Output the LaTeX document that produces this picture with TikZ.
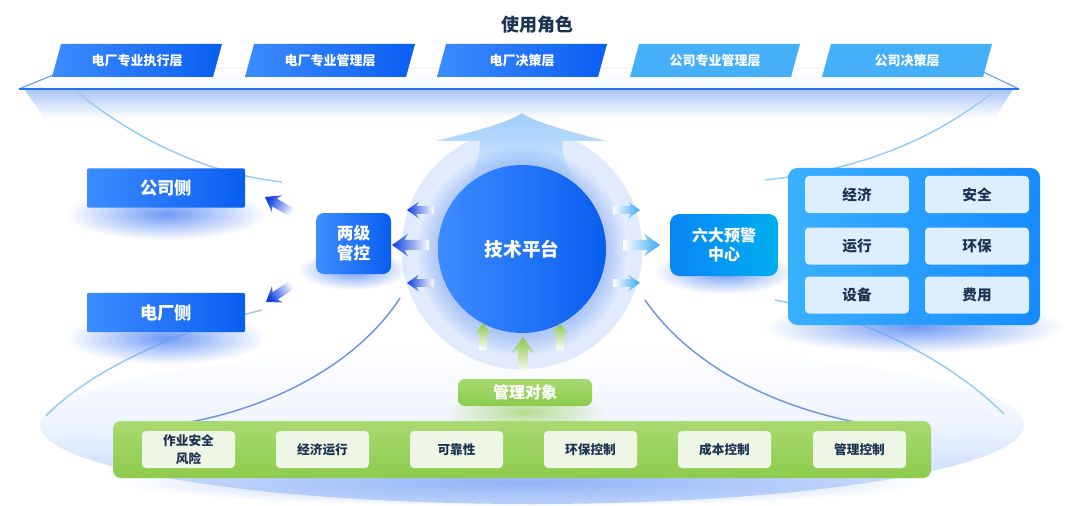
\documentclass[tikz,border=0pt]{standalone}
\usepackage{fontspec}
\setmainfont{Noto Sans CJK SC}
\usetikzlibrary{fadings}
\tikzfading[name=fade out, inner color=transparent!0, outer color=transparent!100]
\tikzfading[name=fade down, top color=transparent!0, bottom color=transparent!100]
\definecolor{navy}{HTML}{1E3352}
\definecolor{bL}{HTML}{3D8CFF}
\definecolor{bR}{HTML}{0A5EF0}
\definecolor{tabLight}{HTML}{45AFF8}
\definecolor{cyanR}{HTML}{00AEEF}
\definecolor{cyanL}{HTML}{0A86F7}
\definecolor{panL}{HTML}{3AB0FF}
\definecolor{panR}{HTML}{168BFF}
\definecolor{cellB}{HTML}{DDEFFF}
\definecolor{gT}{HTML}{A9DA72}
\definecolor{gB}{HTML}{8DCB4C}
\definecolor{gcell}{HTML}{EEF7E6}
\definecolor{curveD}{HTML}{7096DE}
\definecolor{curveL}{HTML}{93CDF6}
\definecolor{glowB}{HTML}{4A80F2}
\definecolor{glowG}{HTML}{B6DC8F}
\definecolor{darkArr}{HTML}{0E3FE0}
\definecolor{lightArr}{HTML}{3AA6F6}
\definecolor{greenArr}{HTML}{8CC84B}
\definecolor{bowlB}{HTML}{BCD3FB}
\definecolor{haloB}{HTML}{E0EAFD}
\definecolor{upTop}{HTML}{9FCDFC}
\definecolor{upBot}{HTML}{E4F0FF}
\definecolor{platLine}{HTML}{2A6FF0}
\definecolor{platDiag}{HTML}{6FA3F2}
\definecolor{platShadow}{HTML}{A9C6F7}
\newcommand\fatarrow[5]{%
  \path[shift={(#1)}, rotate=#2, scale=#5, top color=white, bottom color=#4, shading angle=#3]
    (0,0) -- (-14,-10) -- (-11,-4.5) -- (-32,-4.5) -- (-32,4.5) -- (-11,4.5) -- (-14,10) -- cycle;}
\newcommand\softglow[4]{\fill[#4, path fading=fade out] (#1) ellipse (#2 and #3);}
\begin{document}
\begin{tikzpicture}[x=0.75pt,y=-0.75pt,
  tabtxt/.style={text=white, font=\bfseries\fontsize{9.75}{11}\selectfont},
  sidebox/.style={rounded corners=1.5pt, left color=bL, right color=bR, text=white,
    font=\bfseries\fontsize{13}{15}\selectfont, minimum width=118.5pt, minimum height=29.5pt},
  cellbox/.style={rounded corners=3pt, fill=cellB, text=navy, font=\bfseries\fontsize{11}{13}\selectfont,
    minimum width=78pt, minimum height=27.75pt},
  gcellbox/.style={rounded corners=3pt, fill=gcell, text=navy, font=\bfseries\fontsize{9.5}{14}\selectfont,
    minimum width=69.75pt, minimum height=27.75pt, align=center, inner sep=0pt},
  lightcurve/.style={curveL, line width=1.1pt},
  darkcurve/.style={curveD, line width=1.1pt},
]
\useasboundingbox (0,0) rectangle (1070,506);
\fill[white] (0,0) rectangle (1070,506);

% bowl
\path[top color=white, bottom color=bowlB, middle color=white!75!bowlB] (532,425) ellipse (492 and 79);

% curves
\draw[lightcurve] (78,93) .. controls (150,150) and (220,175) .. (282,182);
\draw[lightcurve] (992,93) .. controls (920,150) and (840,172) .. (765,180);
\draw[lightcurve] (262,310) .. controls (180,330) and (90,370) .. (46,416);
\draw[lightcurve] (775,300) .. controls (880,320) and (960,370) .. (1004,414);
\draw[darkcurve] (400,298) .. controls (360,360) and (280,405) .. (190,422);
\draw[darkcurve] (645,300) .. controls (690,365) and (770,405) .. (855,422);

% platform
\fill[platShadow, path fading=fade down] (24,89) -- (1014,89) -- (995,118) -- (45,118) -- cycle;
\path[top color=white, bottom color=white!85!platShadow] (19,89) -- (70,68) -- (975,68) -- (1019,89) -- cycle;
\draw[white!80!platShadow, line width=0.5pt] (70,68) -- (975,68);
\draw[platDiag, line width=0.9pt] (19,89) -- (70,68);
\draw[platDiag, line width=0.9pt] (975,68) -- (1019,89);
\draw[platLine, line width=1.3pt] (19,89) -- (1019,89);

% tabs
\foreach \x/\c/\t/\n in {52/0/电厂专业执行层/t1, 245/0/电厂专业管理层/t2, 437/0/电厂决策层/t3, 630/1/公司专业管理层/t4, 822/1/公司决策层/t5}{
  \ifnum\c=0
    \path[left color=bL, right color=bR] (\x,77) -- (\x+9,44) -- (\x+170,44) -- (\x+161,77) -- cycle;
  \else
    \fill[tabLight] (\x,77) -- (\x+9,44) -- (\x+170,44) -- (\x+161,77) -- cycle;
  \fi
  \node[tabtxt] (\n) at (\x+85,60.5) {\t};
}
\node[text=navy, font=\bfseries\fontsize{13.5}{16}\selectfont] (title) at (537,25) {使用角色};

% halo
\path[inner color=white!70!haloB, outer color=haloB] (522,249) circle (120);
\draw[white!85!glowB, line width=0.6pt] (522,249) circle (120);
% big up arrow
\path[top color=upTop, bottom color=upBot]
  (436,141) .. controls (480,130) and (510,122) .. (522,113)
  .. controls (534,122) and (564,130) .. (606,141)
  -- (562,141) .. controls (562,165) and (575,182) .. (590,196)
  -- (454,196) .. controls (469,182) and (480,165) .. (480,141) -- cycle;
\foreach \r in {86,89,92,95,98,101,104}{
  \fill[glowB, opacity=0.055] (522,252) circle (\r);
}
\node[circle, minimum size=126pt, left color=bL, right color=bR, text=white,
  font=\bfseries\fontsize{14}{16}\selectfont] (core) at (522,249) {技术平台};

% arrow tips
\coordinate (aL1) at (407,210);
\coordinate (aL2) at (392,245);
\coordinate (aL3) at (407,283);
\coordinate (aR1) at (640,210);
\coordinate (aR2) at (660,245);
\coordinate (aR3) at (640,283);
\coordinate (aG1) at (483,323);
\coordinate (aG2) at (523,337);
\coordinate (aG3) at (560,323);
\coordinate (aU) at (265,197);
\coordinate (aD) at (266,302);
\fatarrow{aL1}{180}{270}{darkArr}{0.85}
\fatarrow{aL2}{180}{270}{darkArr}{1.15}
\fatarrow{aL3}{180}{270}{darkArr}{0.85}
\fatarrow{aR1}{0}{90}{lightArr}{0.85}
\fatarrow{aR2}{0}{90}{lightArr}{1.15}
\fatarrow{aR3}{0}{90}{lightArr}{0.85}
\fatarrow{aG1}{90}{180}{greenArr}{0.85}
\fatarrow{aG2}{90}{180}{greenArr}{1.15}
\fatarrow{aG3}{90}{180}{greenArr}{0.85}
\fatarrow{aU}{150}{240}{darkArr}{1.0}
\fatarrow{aD}{214}{304}{darkArr}{1.0}

% left boxes
\softglow{166,214}{100}{26}{glowB!80}
\softglow{166,338}{100}{26}{glowB!80}
\node[sidebox] (gs) at (166,188) {公司侧};
\node[sidebox] (dc) at (166,312.5) {电厂侧};
\softglow{353,270}{55}{20}{glowB!80}
\node[rounded corners=6pt, left color=bL, right color=bR, text=white, align=center,
  font=\bfseries\fontsize{12.5}{15}\selectfont, minimum width=56.25pt, minimum height=45.75pt,
  inner sep=0pt] (ljgk) at (353.5,243.5) {两级\\管控};

% right
\softglow{724,272}{70}{22}{glowB!80}
\node[rounded corners=7pt, left color=cyanL, right color=cyanR, text=white, align=center,
  font=\bfseries\fontsize{12}{14}\selectfont, minimum width=81pt, minimum height=46.5pt,
  inner sep=0pt] (ldyj) at (724,245) {六大预警\\中心};
\softglow{914,327}{150}{26}{glowB!80}
\node[rounded corners=7pt, left color=panL, right color=panR, minimum width=189pt,
  minimum height=117.75pt] (panel) at (914,246.5) {};
\node[cellbox] (c1) at (857,194.5) {经济};
\node[cellbox] (c2) at (977,194.5) {安全};
\node[cellbox] (c3) at (857,246) {运行};
\node[cellbox] (c4) at (977,246) {环保};
\node[cellbox] (c5) at (857,295) {设备};
\node[cellbox] (c6) at (977,295) {费用};

% bottom
\softglow{525,412}{80}{20}{glowG}
\node[rounded corners=5pt, top color=gT, bottom color=gB, text=white,
  font=\bfseries\fontsize{12}{14}\selectfont, minimum width=100.5pt, minimum height=20.25pt,
  inner sep=0pt] (gldx) at (525,392.5) {管理对象};
\softglow{522,482}{400}{24}{glowB!60}
\node[rounded corners=6pt, top color=gT, bottom color=gB, minimum width=613.5pt,
  minimum height=42.75pt] (gbar) at (522,449.5) {};
\node[gcellbox] (g1) at (188.5,449.5) {作业安全\\风险};
\node[gcellbox] (g2) at (322.5,449.5) {经济运行};
\node[gcellbox] (g3) at (456.5,449.5) {可靠性};
\node[gcellbox] (g4) at (590.5,449.5) {环保控制};
\node[gcellbox] (g5) at (724.5,449.5) {成本控制};
\node[gcellbox] (g6) at (859.5,449.5) {管理控制};
\end{tikzpicture}
\end{document}
